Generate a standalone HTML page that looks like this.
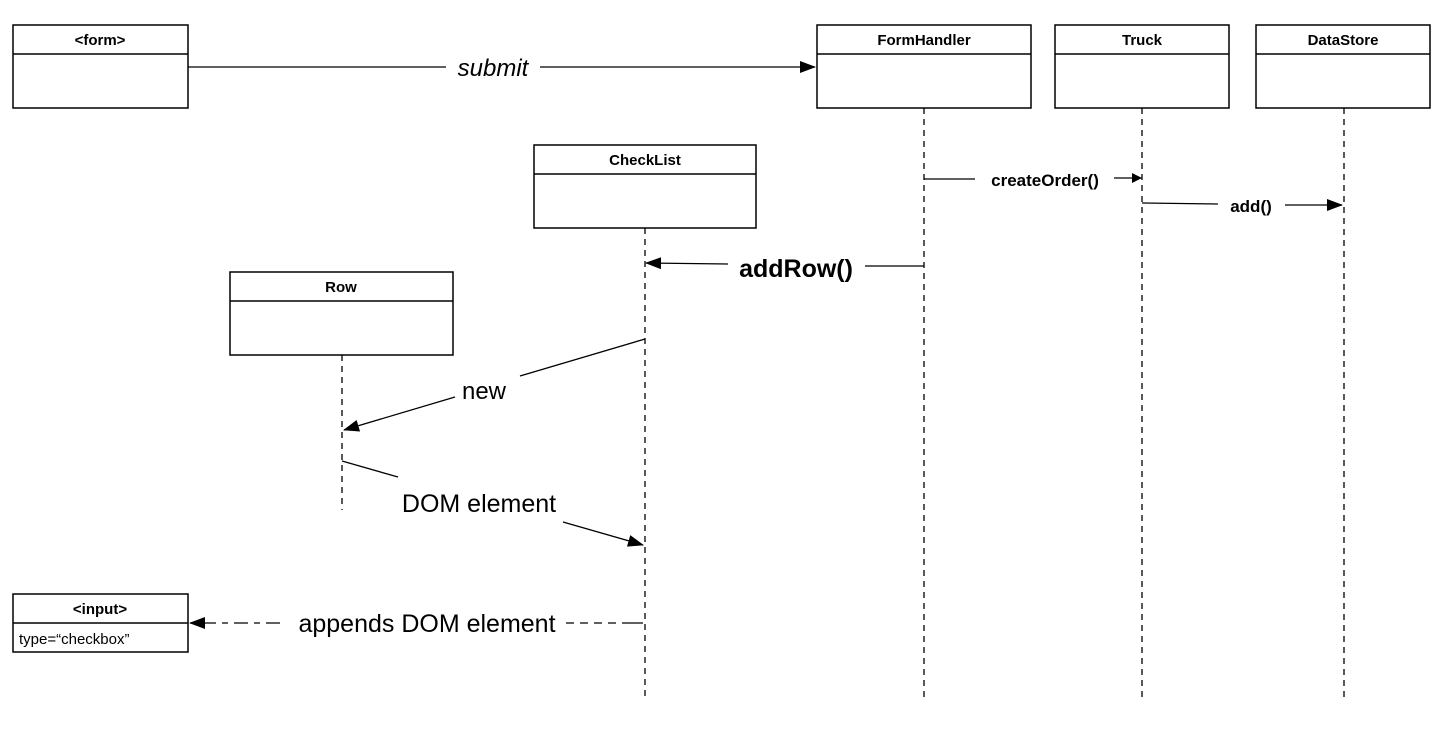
<!DOCTYPE html>
<html><head><meta charset="utf-8"><style>
body{margin:0;background:#fff}
svg{display:block}
text{font-family:"Liberation Sans",Arial,sans-serif;fill:#000}
</style></head><body>
<svg width="1455" height="746" viewBox="0 0 1455 746">
<defs><marker id="a" markerWidth="10" markerHeight="10" refX="9" refY="5" orient="auto" markerUnits="userSpaceOnUse"><path d="M0,0 L10,5 L0,10 Z" fill="#000"/></marker>
<marker id="b" markerWidth="16" markerHeight="12" refX="15" refY="6" orient="auto" markerUnits="userSpaceOnUse"><path d="M0,0 L16,6 L0,12 Z" fill="#000"/></marker></defs>
<g fill="none" stroke="#000" stroke-width="1.5">
<rect x="13" y="25" width="175" height="83"/><line x1="13" y1="54" x2="188" y2="54"/>
<rect x="817" y="25" width="214" height="83"/><line x1="817" y1="54" x2="1031" y2="54"/>
<rect x="1055" y="25" width="174" height="83"/><line x1="1055" y1="54" x2="1229" y2="54"/>
<rect x="1256" y="25" width="174" height="83"/><line x1="1256" y1="54" x2="1430" y2="54"/>
<rect x="534" y="145" width="222" height="83"/><line x1="534" y1="174" x2="756" y2="174"/>
<rect x="230" y="272" width="223" height="83"/><line x1="230" y1="301" x2="453" y2="301"/>
<rect x="13" y="594" width="175" height="58"/><line x1="13" y1="623" x2="188" y2="623"/>
</g>
<g stroke="#000" stroke-width="1.3" stroke-dasharray="6,5">
<line x1="924" y1="108" x2="924" y2="700"/>
<line x1="1142" y1="108" x2="1142" y2="700"/>
<line x1="1344" y1="108" x2="1344" y2="700"/>
<line x1="645" y1="228" x2="645" y2="698"/>
<line x1="342" y1="355" x2="342" y2="510"/>
</g>
<g stroke="#000" stroke-width="1.3" fill="none">
<line x1="188" y1="67" x2="446" y2="67"/><line x1="540" y1="67" x2="815" y2="67" marker-end="url(#b)"/>
<line x1="924" y1="179" x2="975" y2="179"/><line x1="1114" y1="178" x2="1141" y2="178" marker-end="url(#a)"/>
<line x1="1142" y1="203" x2="1218" y2="204"/><line x1="1285" y1="205" x2="1342" y2="205" marker-end="url(#b)"/>
<line x1="924" y1="266" x2="865" y2="266"/><line x1="728" y1="264" x2="646" y2="263" marker-end="url(#b)"/>
<line x1="645" y1="339" x2="520" y2="376"/><line x1="455" y1="397" x2="344" y2="430" marker-end="url(#b)"/>
<line x1="342" y1="461" x2="398" y2="477"/><line x1="563" y1="522" x2="643" y2="545" marker-end="url(#b)"/>
<line x1="643" y1="623" x2="622" y2="623"/>
<line x1="616" y1="623" x2="565" y2="623" stroke-dasharray="8,6"/>
<line x1="280" y1="623" x2="190" y2="623" stroke-dasharray="14,6,6,6" marker-end="url(#b)"/>
</g>
<g font-weight="bold" font-size="15" text-anchor="middle">
<text x="100" y="45">&lt;form&gt;</text>
<text x="924" y="45">FormHandler</text>
<text x="1142" y="45">Truck</text>
<text x="1343" y="45">DataStore</text>
<text x="645" y="165">CheckList</text>
<text x="341" y="292">Row</text>
<text x="100" y="614">&lt;input&gt;</text>
</g>
<text x="19" y="644" font-size="15">type=“checkbox”</text>
<text x="493" y="76" font-size="24" font-style="italic" text-anchor="middle">submit</text>
<text x="1045" y="186" font-size="17" font-weight="bold" text-anchor="middle">createOrder()</text>
<text x="1251" y="212" font-size="17" font-weight="bold" text-anchor="middle">add()</text>
<text x="796" y="277" font-size="25" font-weight="bold" text-anchor="middle">addRow()</text>
<text x="484" y="399" font-size="24" text-anchor="middle">new</text>
<text x="479" y="512" font-size="25" text-anchor="middle">DOM element</text>
<text x="427" y="632" font-size="25" text-anchor="middle">appends DOM element</text>
</svg>
</body></html>
